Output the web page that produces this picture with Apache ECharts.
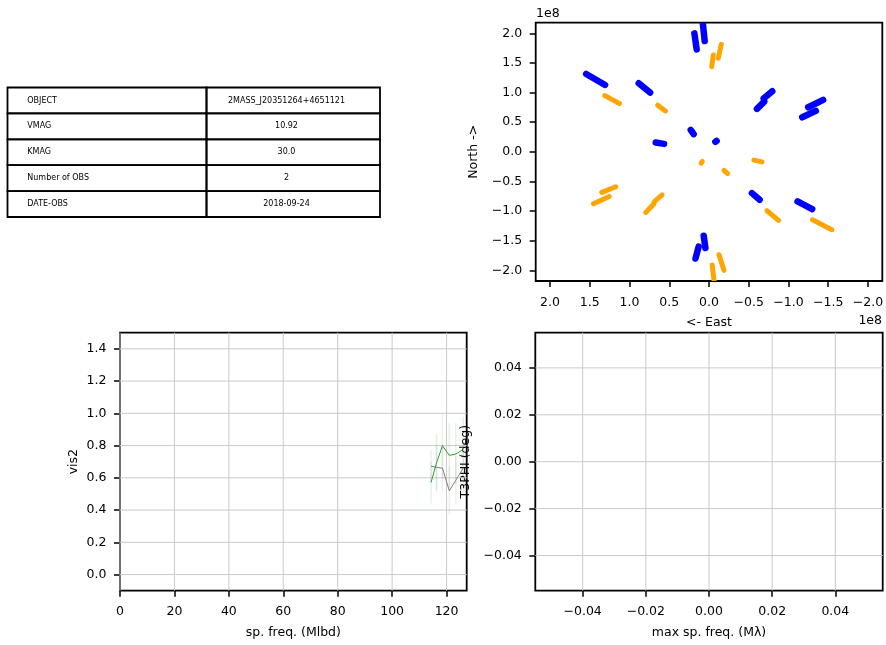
<!DOCTYPE html>
<html><head><meta charset="utf-8">
<script src="https://cdn.jsdelivr.net/npm/echarts@6/dist/echarts.min.js"></script>
<style>html,body{margin:0;padding:0;background:#fff}#c{width:886px;height:645px}</style>
</head><body><div id="c"></div><script>
// ---- table ----
const tableKeys = ['OBJECT', 'VMAG', 'KMAG', 'Number of OBS', 'DATE-OBS'];
const tableValues = ['2MASS_J20351264+4651121', '10.92', '30.0', '2', '2018-09-24'];

// ---- uv coverage (units of 1e8), tracks as [u1, v1, u2, v2] ----
const uvExponent = '1e8';
const blueTracks = [
  [0.184, 2.00, 0.155, 1.73],
  [0.084, 2.25, 0.054, 1.87],
  [1.545, 1.315, 1.307, 1.129],
  [0.884, 1.157, 0.741, 1.000],
  [-0.603, 0.725, -0.695, 0.848],
  [-0.687, 0.899, -0.796, 1.022],
  [-1.248, 0.753, -1.436, 0.876],
  [-1.173, 0.584, -1.344, 0.691],
  [0.230, 0.371, 0.193, 0.298],
  [0.670, 0.157, 0.565, 0.135],
  [-0.080, 0.169, -0.096, 0.185],
  [-0.540, -0.697, -0.637, -0.809],
  [-1.114, -0.837, -1.298, -0.966],
  [0.067, -1.416, 0.045, -1.624],
  [0.170, -1.800, 0.130, -1.600]
];
const orangeTracks = [
  [-0.034, 1.438, -0.054, 1.635],
  [-0.117, 1.579, -0.155, 1.815],
  [1.311, 0.949, 1.126, 0.815],
  [0.645, 0.787, 0.549, 0.691],
  [0.100, -0.191, 0.084, -0.163],
  [-0.188, -0.315, -0.235, -0.365],
  [-0.565, -0.140, -0.666, -0.169],
  [1.348, -0.685, 1.173, -0.590],
  [1.453, -0.876, 1.256, -0.753],
  [0.796, -1.022, 0.691, -0.876],
  [0.691, -0.843, 0.590, -0.725],
  [-0.729, -0.994, -0.875, -1.157],
  [-1.302, -1.146, -1.545, -1.315],
  [-0.040, -1.910, -0.070, -2.250],
  [-0.126, -1.736, -0.188, -2.000]
];
const uvTicks = [2.0, 1.5, 1.0, 0.5, 0.0, -0.5, -1.0, -1.5, -2.0];
const uvLim = 2.18;

// ---- vis2 ----
const vis2Freq = [114.3, 116.3, 118.5, 121.0, 123.4, 126.1];
const vis2Green = [0.571, 0.692, 0.799, 0.739, 0.748, 0.775];
const vis2GreenErr = [0.13, 0.18, 0.20, 0.20, 0.19, 0.20];
const vis2Grey = [0.672, 0.665, 0.660, 0.520, 0.585, 0.660];
const vis2GreyErr = [0.10, 0.14, 0.15, 0.15, 0.15, 0.15];
const vis2XTicks = [0, 20, 40, 60, 80, 100, 120];
const vis2YTicks = [0.0, 0.2, 0.4, 0.6, 0.8, 1.0, 1.2, 1.4];
const vis2XMax = 127.4;
const vis2YMin = -0.1, vis2YMax = 1.5;

// ---- t3phi (empty) ----
const t3Ticks = [-0.04, -0.02, 0.00, 0.02, 0.04];
const t3Lim = 0.055;

const FONT = 'DejaVu Sans';
const FS = 12.5;
const minus = s => s.replace('-', '\u2212');

function axisCommon(ticks, digits, margin) {
  return {
    axisLine: { show: false, onZero: false },
    axisTick: { show: true, length: 6, customValues: ticks, lineStyle: { color: '#000', width: 1.5 } },
    axisLabel: { customValues: ticks, color: '#000', fontSize: FS, fontFamily: FONT, margin: margin,
      formatter: v => minus(Number(v).toFixed(digits)) },
    splitLine: { show: false },
    nameTextStyle: { color: '#000', fontSize: FS, fontFamily: FONT }
  };
}

function trackSeries(tracks, color, width) {
  return {
    type: 'custom', xAxisIndex: 0, yAxisIndex: 0, clip: true, silent: true,
    data: tracks,
    renderItem: (params, api) => {
      const p1 = api.coord([api.value(0), api.value(1)]);
      const p2 = api.coord([api.value(2), api.value(3)]);
      return { type: 'line', shape: { x1: p1[0], y1: p1[1], x2: p2[0], y2: p2[1] },
        style: { stroke: color, lineWidth: width, lineCap: 'round' } };
    }
  };
}

function gridLineSeries(axisIdx, vals, dir, lo, hi) {
  return {
    type: 'custom', xAxisIndex: axisIdx, yAxisIndex: axisIdx, silent: true, z: 1,
    data: vals.map(v => dir === 'v' ? [v, lo] : [lo, v]),
    renderItem: (params, api) => {
      let p1, p2;
      if (dir === 'v') { const x = api.value(0); p1 = api.coord([x, lo]); p2 = api.coord([x, hi]); }
      else { const y = api.value(1); p1 = api.coord([lo, y]); p2 = api.coord([hi, y]); }
      return { type: 'line', shape: { x1: p1[0], y1: p1[1], x2: p2[0], y2: p2[1] },
        style: { stroke: '#cacaca', lineWidth: 1 } };
    }
  };
}

function errSeries(freq, vals, errs, color) {
  return {
    type: 'custom', xAxisIndex: 1, yAxisIndex: 1, silent: true, z: 2, clip: true,
    data: freq.map((f, i) => [f, vals[i], errs[i]]),
    renderItem: (params, api) => {
      const x = api.value(0), y = api.value(1), e = api.value(2);
      const p1 = api.coord([x, y - e]); const p2 = api.coord([x, y + e]);
      return { type: 'line', shape: { x1: p1[0], y1: p1[1], x2: p2[0], y2: p2[1] },
        style: { stroke: color, lineWidth: 1.5 } };
    }
  };
}

// table graphics
const tbl = { x: 7.5, y: 87.5, w1: 199, w2: 173.5, rh: 25.9 };
const tableGraphics = [];
tableKeys.forEach((k, i) => {
  const y = tbl.y + i * tbl.rh;
  tableGraphics.push({ type: 'rect', shape: { x: tbl.x, y: y, width: tbl.w1, height: tbl.rh },
    style: { fill: 'none', stroke: '#000', lineWidth: 1.8 } });
  tableGraphics.push({ type: 'rect', shape: { x: tbl.x + tbl.w1, y: y, width: tbl.w2, height: tbl.rh },
    style: { fill: 'none', stroke: '#000', lineWidth: 1.8 } });
  tableGraphics.push({ type: 'text', x: 27.3, y: y + tbl.rh / 2,
    style: { text: k, fontSize: 8, fontFamily: FONT, fill: '#000', verticalAlign: 'middle', align: 'left' } });
  tableGraphics.push({ type: 'text', x: 286.5, y: y + tbl.rh / 2,
    style: { text: tableValues[i], fontSize: 8, fontFamily: FONT, fill: '#000', verticalAlign: 'middle', align: 'center' } });
});

const XM = 15, YM = 13.5;
const gridBase = { show: true, borderColor: '#000', borderWidth: 1.8, backgroundColor: 'transparent',
  containLabel: false, outerBoundsMode: 'none' };
const chart = echarts.init(document.getElementById('c'), null, { renderer: 'canvas' });
chart.setOption({
  animation: false,
  backgroundColor: '#fff',
  textStyle: { fontFamily: FONT },
  grid: [
    Object.assign({ left: 535.7, top: 22.7, width: 346.6, height: 258.3 }, gridBase),
    Object.assign({ left: 120, top: 332.7, width: 346.7, height: 258 }, gridBase),
    Object.assign({ left: 535.3, top: 332.7, width: 347.4, height: 258 }, gridBase)
  ],
  xAxis: [
    Object.assign(axisCommon(uvTicks, 1, XM), { type: 'value', gridIndex: 0, inverse: true, min: -uvLim, max: uvLim,
      name: '<- East', nameLocation: 'middle', nameGap: 35.5 }),
    Object.assign(axisCommon(vis2XTicks, 0, XM), { type: 'value', gridIndex: 1, min: 0, max: vis2XMax,
      name: 'sp. freq. (Mlbd)', nameLocation: 'middle', nameGap: 35.5 }),
    Object.assign(axisCommon(t3Ticks, 2, XM), { type: 'value', gridIndex: 2, min: -t3Lim, max: t3Lim,
      name: 'max sp. freq. (M\u03bb)', nameLocation: 'middle', nameGap: 35.5 })
  ],
  yAxis: [
    Object.assign(axisCommon(uvTicks, 1, YM), { type: 'value', gridIndex: 0, min: -uvLim, max: uvLim,
      name: 'North ->', nameLocation: 'middle', nameGap: 55, nameRotate: 90 }),
    Object.assign(axisCommon(vis2YTicks, 1, YM), { type: 'value', gridIndex: 1, min: vis2YMin, max: vis2YMax,
      name: 'vis2', nameLocation: 'middle', nameGap: 40, nameRotate: 90 }),
    Object.assign(axisCommon(t3Ticks, 2, YM), { type: 'value', gridIndex: 2, min: -t3Lim, max: t3Lim,
      name: 'T3PHI (deg)', nameLocation: 'middle', nameGap: 63, nameRotate: 90 })
  ],
  graphic: tableGraphics.concat([
    { type: 'text', x: 536, y: 13.3, style: { text: uvExponent, fontSize: FS, fontFamily: FONT, fill: '#000', verticalAlign: 'middle', align: 'left' } },
    { type: 'text', x: 882, y: 320.7, style: { text: uvExponent, fontSize: FS, fontFamily: FONT, fill: '#000', verticalAlign: 'middle', align: 'right' } }
  ]),
  series: [
    trackSeries(orangeTracks, '#ffa500', 5),
    trackSeries(blueTracks, '#0000ff', 6.5),
    gridLineSeries(1, vis2XTicks, 'v', vis2YMin, vis2YMax),
    gridLineSeries(1, vis2YTicks, 'h', 0, vis2XMax),
    gridLineSeries(2, t3Ticks, 'v', -t3Lim, t3Lim),
    gridLineSeries(2, t3Ticks, 'h', -t3Lim, t3Lim),
    errSeries(vis2Freq, vis2Green, vis2GreenErr, 'rgba(44,160,44,0.13)'),
    errSeries(vis2Freq, vis2Grey, vis2GreyErr, 'rgba(128,128,128,0.13)'),
    { type: 'line', xAxisIndex: 1, yAxisIndex: 1, z: 3, showSymbol: false, silent: true,
      data: vis2Freq.map((f, i) => [f, vis2Grey[i]]), lineStyle: { color: '#808080', width: 1 } },
    { type: 'line', xAxisIndex: 1, yAxisIndex: 1, z: 4, showSymbol: false, silent: true,
      data: vis2Freq.map((f, i) => [f, vis2Green[i]]), lineStyle: { color: '#2ca02c', width: 1 } }
  ]
});
</script></body></html>
